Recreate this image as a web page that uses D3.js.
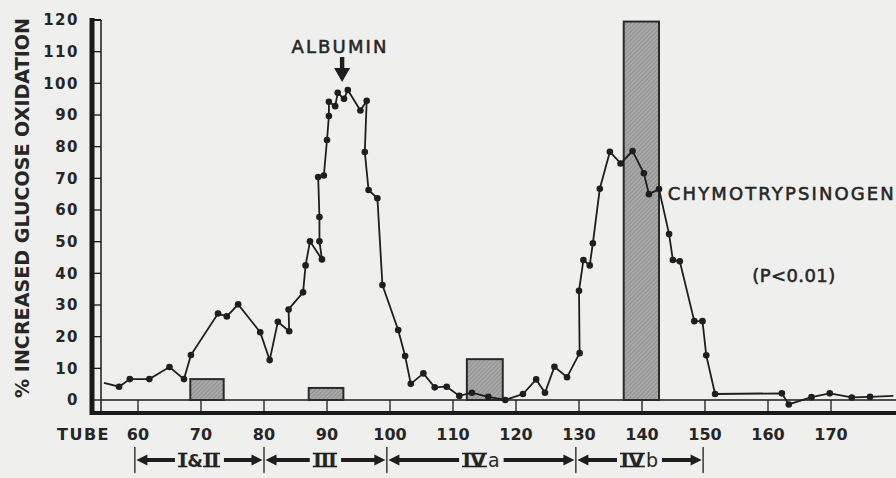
<!DOCTYPE html>
<html>
<head>
<meta charset="utf-8">
<script src="https://cdn.jsdelivr.net/npm/d3@7"></script>
<style>
  body { margin: 0; background: #efefed; }
  svg { display: block; }
  text { font-family: "DejaVu Sans", sans-serif; fill: #262626; }
  .note { stroke: #262626; stroke-width: 0.55; }
</style>
</head>
<body>
<svg id="chart" width="896" height="478"></svg>
<script>
// glucose oxidation curve, in drawing order (first and last entries are bare line ends)
const tubes = [54.6, 57.0, 58.7, 61.8, 65.0, 67.3, 68.4, 72.7, 74.1, 75.9, 79.4, 80.9, 82.2, 84.0, 83.9,
  86.2, 86.6, 87.3, 89.2, 88.8, 88.8, 88.6, 89.5, 90.0, 90.3, 90.3, 91.3, 91.7, 92.7, 93.3, 95.3, 96.3,
  96.0, 96.6, 98.0, 98.8, 101.3, 102.4, 103.3, 105.3, 107.1, 109.0, 111.0, 113.0, 115.6, 118.3, 121.1,
  123.2, 124.6, 126.1, 128.1, 130.1, 130.0, 130.7, 131.7, 132.2, 133.3, 134.9, 136.6, 138.5, 140.3,
  141.1, 142.7, 144.3, 144.9, 146.0, 148.3, 149.6, 150.2, 151.6, 162.2, 163.3, 166.9, 169.8, 173.3,
  176.2, 179.9];
const pcts = [5.4, 4.2, 6.6, 6.6, 10.4, 6.6, 14.2, 27.3, 26.4, 30.2, 21.4, 12.6, 24.7, 21.7, 28.6,
  34.0, 42.5, 50.1, 44.4, 50.1, 57.8, 70.4, 70.9, 82.1, 89.7, 94.2, 92.8, 97.0, 95.1, 97.9, 91.4, 94.5,
  78.3, 66.3, 63.7, 36.3, 22.1, 13.9, 5.1, 8.4, 4.0, 4.2, 1.3, 2.3, 1.0, 0.0, 1.9,
  6.5, 2.3, 10.5, 7.2, 14.8, 34.5, 44.2, 42.5, 49.5, 66.7, 78.4, 74.7, 78.6, 71.6,
  65.0, 66.6, 52.4, 44.2, 43.8, 24.9, 24.9, 14.1, 1.9, 2.1, -1.4, 0.9, 2.1, 0.8,
  1.0, 1.3];

// protein standards (hatched bars)
const barFrom = [68.3, 87.1, 112.2, 137.1];
const barTo = [73.6, 92.6, 117.9, 142.7];
const barPct = [6.6, 3.8, 12.9, 119.5];

const xTicks = d3.range(60, 171, 10);
const yTicks = d3.range(0, 121, 10);

// fraction brackets under the axis
const fractionEdges = [59.5, 80, 99.5, 129.5, 149.7];
const fractionRoman = [["I", "&", "II"], ["III"], ["IV"], ["IV"]];
const fractionSuffix = ["", "", "a", "b"];

const svg = d3.select("#chart");
const x = d3.scaleLinear().domain([60, 170]).range([138, 831]);
const y = d3.scaleLinear().domain([0, 120]).range([400, 20]);

const defs = svg.append("defs");
const pat = defs.append("pattern")
  .attr("id", "hatch")
  .attr("patternUnits", "userSpaceOnUse")
  .attr("width", 3).attr("height", 3)
  .attr("patternTransform", "rotate(45)");
pat.append("rect").attr("width", 3).attr("height", 3).attr("fill", "#a9a9a9");
pat.append("line").attr("x1", 0).attr("y1", 0).attr("x2", 0).attr("y2", 3)
  .attr("stroke", "#808080").attr("stroke-width", 1.2);

// y axis ladder
const ax = svg.append("g").attr("stroke", "#1a1a1a");
ax.append("line").attr("x1", 92).attr("x2", 92).attr("y1", 18).attr("y2", 415).attr("stroke-width", 5);
ax.append("line").attr("x1", 101).attr("x2", 101).attr("y1", 20).attr("y2", 413).attr("stroke-width", 1.5);
ax.selectAll(".yr").data(yTicks).join("line").attr("class", "yr")
  .attr("x1", 92).attr("x2", 101)
  .attr("y1", d => y(d)).attr("y2", d => y(d))
  .attr("stroke-width", d => d === 120 ? 2 : 1.3);

// x axis ladder
ax.append("line").attr("x1", 101).attr("x2", 896).attr("y1", y(0)).attr("y2", y(0)).attr("stroke-width", 1.5);
ax.append("line").attr("x1", 90).attr("x2", 896).attr("y1", 413).attr("y2", 413).attr("stroke-width", 4);
ax.selectAll(".xr").data(xTicks).join("line").attr("class", "xr")
  .attr("x1", d => x(d)).attr("x2", d => x(d))
  .attr("y1", y(0)).attr("y2", 413).attr("stroke-width", 1.3);

svg.selectAll(".yl").data(yTicks).join("text").attr("class", "yl")
  .attr("x", 79).attr("y", d => y(d)).attr("dy", "0.36em")
  .attr("text-anchor", "end")
  .attr("font-size", 15).attr("font-weight", "bold").attr("letter-spacing", 1.5)
  .attr("fill", "#333")
  .text(d => d);

svg.selectAll(".xl").data(xTicks).join("text").attr("class", "xl")
  .attr("x", d => x(d)).attr("y", 440)
  .attr("text-anchor", "middle")
  .attr("font-size", 16).attr("font-weight", "bold").attr("fill", "#333")
  .text(d => d);

svg.append("text").attr("x", 57).attr("y", 440)
  .attr("font-size", 16).attr("font-weight", "bold").attr("fill", "#333")
  .attr("letter-spacing", 1.5)
  .text("TUBE");

svg.append("text")
  .attr("transform", "translate(29,208) rotate(-90)")
  .attr("text-anchor", "middle")
  .attr("font-family", "Liberation Sans, Arial, sans-serif")
  .attr("font-weight", "bold").attr("font-size", 20)
  .attr("textLength", 380).attr("lengthAdjust", "spacingAndGlyphs")
  .attr("fill", "#111")
  .text("% INCREASED GLUCOSE OXIDATION");

// bars
svg.selectAll(".bar").data(barPct).join("rect").attr("class", "bar")
  .attr("x", (d, i) => x(barFrom[i]))
  .attr("width", (d, i) => x(barTo[i]) - x(barFrom[i]))
  .attr("y", d => y(d))
  .attr("height", d => y(0) - y(d))
  .attr("fill", "url(#hatch)")
  .attr("stroke", "#2a2a2a").attr("stroke-width", 2);

// curve
const pts = tubes.map((t, i) => [x(t), y(pcts[i])]);
svg.append("path").attr("d", d3.line()(pts))
  .attr("fill", "none").attr("stroke", "#1e1e1e").attr("stroke-width", 1.8);
svg.selectAll(".dot").data(pts.slice(1, -1)).join("circle").attr("class", "dot")
  .attr("cx", d => d[0]).attr("cy", d => d[1]).attr("r", 3.3)
  .attr("fill", "#1e1e1e");

// annotations
svg.append("text").attr("class", "note").attr("x", x(91.9)).attr("y", 53)
  .attr("text-anchor", "middle").attr("font-size", 18).attr("textLength", 95)
  .text("ALBUMIN");
const ax0 = x(92.4);
svg.append("path")
  .attr("d", `M${ax0 - 2.2},57 L${ax0 + 2.2},57 L${ax0 + 2.2},68 L${ax0 + 8},68 L${ax0},82 L${ax0 - 8},68 L${ax0 - 2.2},68 Z`)
  .attr("fill", "#1e1e1e");

svg.append("text").attr("class", "note").attr("x", x(144.1)).attr("y", 200)
  .attr("font-size", 18).attr("textLength", 226)
  .text("CHYMOTRYPSINOGEN");
svg.append("text").attr("class", "note").attr("x", x(157.5)).attr("y", 282)
  .attr("font-size", 18).attr("textLength", 83)
  .text("(P<0.01)");

// fraction brackets
const br = svg.append("g");
br.selectAll(".div").data(fractionEdges).join("line").attr("class", "div")
  .attr("x1", d => x(d)).attr("x2", d => x(d))
  .attr("y1", 447).attr("y2", 473)
  .attr("stroke", "#1e1e1e").attr("stroke-width", 1.3);

function arrow(g, from, to) {
  const dir = Math.sign(to - from);
  g.append("line").attr("x1", from).attr("x2", to - dir * 8).attr("y1", 460).attr("y2", 460)
    .attr("stroke", "#1e1e1e").attr("stroke-width", 4);
  g.append("path")
    .attr("d", `M${to},460 L${to - dir * 11},454.5 L${to - dir * 11},465.5 Z`)
    .attr("fill", "#1e1e1e");
}

fractionRoman.forEach((parts, i) => {
  const left = x(fractionEdges[i]) + 1.5;
  const right = x(fractionEdges[i + 1]) - 1.5;
  const g = br.append("g");
  let cx = 0;
  const bars = [];
  parts.forEach(p => {
    const isAmp = p === "&";
    const t = g.append("text").attr("x", cx).attr("y", 467)
      .attr("font-family", "Liberation Serif, serif")
      .attr("font-weight", "bold")
      .attr("font-size", isAmp ? 18 : 20)
      .text(p);
    const w = t.node().getComputedTextLength();
    if (!isAmp) bars.push([cx - 1, cx + w + 1]);
    cx += w + 1;
  });
  if (fractionSuffix[i]) {
    const t = g.append("text").attr("x", cx + 1).attr("y", 467)
      .attr("font-size", 19).text(fractionSuffix[i]);
    cx += 1 + t.node().getComputedTextLength();
  }
  bars.forEach(([a, b]) => {
    [453.5, 466.5].forEach(yy => g.append("line")
      .attr("x1", a).attr("x2", b).attr("y1", yy).attr("y2", yy)
      .attr("stroke", "#1e1e1e").attr("stroke-width", 1.6));
  });
  const mid = (left + right) / 2;
  const start = mid - cx / 2;
  g.attr("transform", `translate(${start},0)`);
  arrow(br, start - 4, left);
  arrow(br, start + cx + 4, right);
});
</script>
</body>
</html>
